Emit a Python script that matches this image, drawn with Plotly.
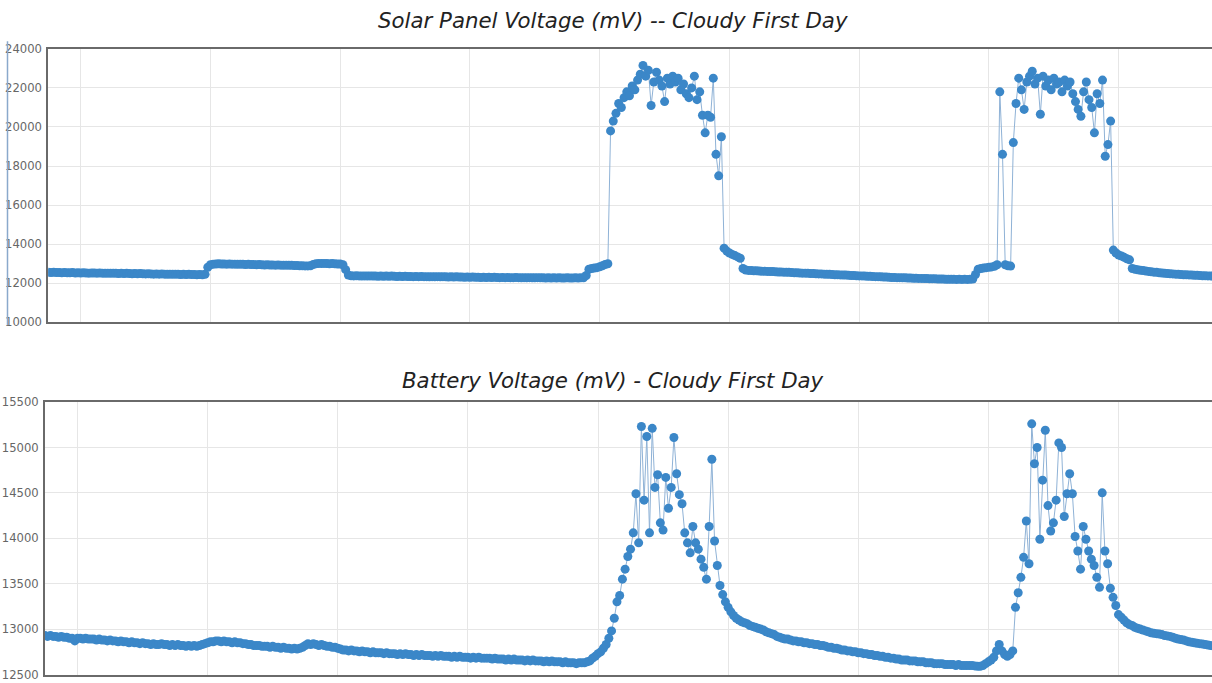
import plotly.graph_objects as go

# Logger samples every 10 minutes; one row below = 3 hours (18 samples)
STEP_MIN = 10

solar_mv = [
    12560, 12550, 12560, 12550, 12550, 12540, 12550, 12540, 12540, 12550, 12530, 12540, 12530, 12540, 12530, 12520, 12530, 12530,
    12520, 12530, 12520, 12510, 12520, 12510, 12520, 12510, 12500, 12510, 12500, 12510, 12500, 12490, 12500, 12490, 12500, 12490,
    12480, 12490, 12480, 12470, 12480, 12470, 12480, 12470, 12460, 12470, 12460, 12470, 12460, 12450, 12460, 12450, 12460, 12450,
    12450, 12440, 12450, 12440, 12460, 12820, 12950, 12980, 12990, 13000, 12990, 12990, 12980, 12990, 12980, 12980, 12970, 12980,
    12970, 12960, 12970, 12960, 12960, 12950, 12960, 12950, 12940, 12950, 12940, 12940, 12930, 12940, 12930, 12920, 12930, 12920,
    12920, 12910, 12910, 12900, 12900, 12890, 12890, 12900, 12960, 13000, 13020, 13010, 13020, 13010, 13000, 13010, 13000, 12990,
    12990, 12950, 12700, 12420, 12390, 12380, 12390, 12380, 12370, 12380, 12370, 12380, 12370, 12370, 12360, 12370, 12360, 12370,
    12360, 12370, 12360, 12350, 12360, 12350, 12360, 12350, 12350, 12340, 12350, 12340, 12350, 12340, 12340, 12330, 12340, 12330,
    12340, 12330, 12340, 12330, 12320, 12330, 12320, 12330, 12320, 12320, 12310, 12320, 12310, 12320, 12310, 12310, 12300, 12310,
    12300, 12310, 12300, 12310, 12300, 12290, 12300, 12290, 12300, 12290, 12290, 12300, 12290, 12280, 12290, 12280, 12290, 12280,
    12280, 12290, 12280, 12280, 12270, 12280, 12270, 12280, 12270, 12280, 12270, 12270, 12280, 12270, 12270, 12280, 12270, 12280,
    12280, 12400, 12720, 12760, 12780, 12800, 12850, 12900, 12960, 13000, 19800, 20300, 20700, 21200, 21000, 21500, 21800, 21600,
    22100, 21900, 22400, 22700, 23150, 22600, 22900, 21100, 22300, 22800, 22400, 22100, 21300, 22500, 22200, 22600, 22300, 22500,
    21900, 22200, 21700, 21500, 22000, 22600, 21400, 21800, 20600, 19700, 20600, 20500, 22500, 18600, 17500, 19500, 13800, 13650,
    13550, 13480, 13420, 13350, 13280, 12760, 12680, 12660, 12650, 12640, 12640, 12630, 12620, 12620, 12610, 12600, 12600, 12590,
    12580, 12580, 12570, 12560, 12560, 12550, 12540, 12540, 12530, 12520, 12520, 12510, 12500, 12500, 12490, 12480, 12480, 12470,
    12460, 12460, 12450, 12440, 12440, 12430, 12420, 12420, 12410, 12400, 12400, 12390, 12380, 12380, 12370, 12360, 12360, 12350,
    12340, 12340, 12330, 12320, 12320, 12310, 12300, 12300, 12290, 12290, 12280, 12280, 12270, 12270, 12260, 12260, 12250, 12250,
    12240, 12240, 12230, 12230, 12230, 12220, 12220, 12220, 12210, 12210, 12210, 12210, 12200, 12210, 12200, 12210, 12200, 12210,
    12220, 12450, 12720, 12760, 12780, 12800, 12820, 12840, 12870, 12950, 21800, 18600, 12950, 12900, 12880, 19200, 21200, 22500,
    21900, 20900, 22300, 22600, 22850, 22200, 22500, 20650, 22600, 22100, 22400, 21900, 22500, 22200, 22300, 21800, 22400, 22100,
    22300, 21700, 21300, 20900, 20550, 21800, 22300, 21400, 21000, 19700, 21700, 21200, 22400, 18500, 19100, 20300, 13700, 13550,
    13450, 13400, 13330, 13260, 13200, 12760, 12720, 12690, 12670, 12650, 12630, 12610, 12590, 12570, 12560, 12540, 12530, 12510,
    12500, 12490, 12480, 12470, 12460, 12450, 12440, 12440, 12430, 12420, 12410, 12410, 12400, 12390, 12390, 12380, 12380, 12370,
]

battery_mv = [
    12930, 12920, 12930, 12920, 12920, 12910, 12920, 12910, 12910, 12900, 12900, 12870, 12900, 12900, 12890, 12900, 12890, 12890,
    12890, 12880, 12890, 12880, 12880, 12870, 12880, 12870, 12870, 12860, 12870, 12860, 12860, 12850, 12860, 12850, 12850, 12840,
    12850, 12840, 12840, 12830, 12840, 12830, 12830, 12840, 12830, 12830, 12820, 12830, 12820, 12830, 12820, 12820, 12810, 12820,
    12810, 12820, 12810, 12820, 12830, 12840, 12850, 12860, 12860, 12870, 12870, 12860, 12870, 12860, 12860, 12850, 12860, 12850,
    12850, 12840, 12840, 12830, 12830, 12820, 12820, 12820, 12810, 12810, 12810, 12800, 12810, 12800, 12800, 12790, 12800, 12790,
    12790, 12780, 12790, 12780, 12790, 12800, 12820, 12840, 12830, 12840, 12830, 12820, 12830, 12820, 12810, 12810, 12800, 12800,
    12790, 12780, 12770, 12770, 12760, 12770, 12760, 12760, 12750, 12760, 12750, 12750, 12740, 12750, 12740, 12740, 12740, 12730,
    12740, 12730, 12730, 12730, 12720, 12730, 12720, 12730, 12720, 12720, 12710, 12720, 12710, 12720, 12710, 12710, 12710, 12700,
    12710, 12700, 12710, 12700, 12700, 12700, 12690, 12700, 12690, 12700, 12690, 12690, 12690, 12680, 12690, 12680, 12690, 12680,
    12680, 12680, 12680, 12670, 12680, 12670, 12670, 12670, 12660, 12670, 12660, 12670, 12660, 12660, 12660, 12650, 12660, 12650,
    12660, 12650, 12650, 12650, 12640, 12650, 12640, 12650, 12640, 12640, 12640, 12630, 12640, 12630, 12630, 12630, 12620, 12630,
    12630, 12630, 12640, 12650, 12680, 12700, 12730, 12750, 12790, 12830, 12900, 12980, 13120, 13300, 13370, 13550, 13660, 13800,
    13880, 14060, 14490, 13950, 15230, 14420, 15120, 14060, 15210, 14560, 14700, 14170, 14090, 14670, 14330, 14560, 15110, 14710,
    14480, 14380, 14060, 13950, 13840, 14130, 13950, 13880, 13770, 13680, 13550, 14130, 14870, 13970, 13700, 13480, 13380, 13300,
    13240, 13190, 13150, 13120, 13100, 13080, 13070, 13060, 13040, 13030, 13020, 13010, 13000, 12990, 12970, 12960, 12950, 12940,
    12920, 12910, 12900, 12890, 12890, 12880, 12870, 12870, 12860, 12860, 12850, 12850, 12840, 12840, 12830, 12830, 12820, 12820,
    12810, 12800, 12800, 12790, 12790, 12780, 12770, 12770, 12760, 12760, 12750, 12750, 12740, 12740, 12730, 12730, 12720, 12720,
    12710, 12710, 12700, 12700, 12690, 12690, 12680, 12680, 12670, 12670, 12660, 12660, 12660, 12650, 12650, 12650, 12640, 12640,
    12640, 12630, 12630, 12630, 12620, 12620, 12620, 12620, 12610, 12610, 12610, 12610, 12600, 12610, 12600, 12600, 12600, 12600,
    12600, 12595, 12590, 12590, 12600, 12620, 12640, 12660, 12690, 12760, 12830, 12760, 12720, 12700, 12720, 12760, 13240, 13400,
    13570, 13790, 14190, 13720, 15260, 14820, 15000, 13990, 14640, 15190, 14360, 14080, 14170, 14420, 15050, 15000, 14240, 14490,
    14710, 14490, 14020, 13860, 13660, 14130, 13990, 13860, 13770, 13700, 13570, 13460, 14500, 13860, 13720, 13450, 13350, 13260,
    13160, 13130, 13100, 13070, 13050, 13040, 13020, 13010, 13000, 12990, 12980, 12970, 12960, 12955, 12950, 12945, 12940, 12930,
    12925, 12920, 12910, 12900, 12890, 12885, 12880, 12870, 12860, 12855, 12850, 12845, 12840, 12835, 12830, 12825, 12820, 12815,
]

solar_title = "Solar Panel Voltage (mV) -- Cloudy First Day"
battery_title = "Battery Voltage (mV) - Cloudy First Day"

solar_ticks = [10000, 12000, 14000, 16000, 18000, 20000, 22000, 24000]
battery_ticks = [12500, 13000, 13500, 14000, 14500, 15000, 15500]

# elapsed hours for each sample
hours_solar = [i * STEP_MIN / 60 for i in range(len(solar_mv))]
hours_batt = [i * STEP_MIN / 60 for i in range(len(battery_mv))]

W, H = 1212, 683
DOT = "#3b87c8"
LINK = "#8fb2d6"
GRID = "#e6e6e6"
FRAME = "#6a6a6a"
TICK_FONT = dict(family="DejaVu Sans", size=11.6, color="#666666")
TITLE_FONT = dict(family="DejaVu Sans", size=21.3, color="#222222")

fig = go.Figure()
fig.add_trace(go.Scatter(
    x=hours_solar, y=solar_mv, mode="lines+markers", xaxis="x", yaxis="y",
    line=dict(color=LINK, width=1), marker=dict(size=9, color=DOT),
    hoverinfo="y", showlegend=False,
))
fig.add_trace(go.Scatter(
    x=hours_batt, y=battery_mv, mode="lines+markers", xaxis="x2", yaxis="y2",
    line=dict(color=LINK, width=1), marker=dict(size=9, color=DOT),
    hoverinfo="y", showlegend=False,
))

x_common = dict(
    range=[0, 71.75], tick0=2, dtick=8, showticklabels=False, ticks="",
    showgrid=True, gridcolor=GRID, gridwidth=1, zeroline=False,
    showline=True, linecolor=FRAME, linewidth=2, mirror=True,
)
y_common = dict(
    showgrid=True, gridcolor=GRID, gridwidth=1, zeroline=False,
    showline=True, linecolor=FRAME, linewidth=2, mirror=False,
    ticks="", tickfont=TICK_FONT, ticklabelstandoff=2,
)

fig.update_layout(
    width=W, height=H,
    margin=dict(l=0, r=0, t=0, b=0),
    paper_bgcolor="white", plot_bgcolor="white",
    showlegend=False,
    xaxis=dict(domain=[48.3 / W, 1], anchor="y", **x_common),
    yaxis=dict(domain=[(H - 322) / H, (H - 42.7) / H], anchor="x",
               range=[10000, 24000], tickvals=solar_ticks,
               ticktext=[str(v) for v in solar_ticks], **y_common),
    xaxis2=dict(domain=[45 / W, 1], anchor="y2", **x_common),
    yaxis2=dict(domain=[(H - 681.5) / H, (H - 403.3) / H], anchor="x2",
                range=[12500, 15500], tickvals=battery_ticks,
                ticktext=[str(v) for v in battery_ticks], **y_common),
    annotations=[
        dict(text=f"<i>{solar_title}</i>", xref="paper", yref="paper",
             x=613 / W, y=(H - 14) / H, xanchor="center", yanchor="middle",
             showarrow=False, font=TITLE_FONT),
        dict(text=f"<i>{battery_title}</i>", xref="paper", yref="paper",
             x=613 / W, y=(H - 381) / H, xanchor="center", yanchor="middle",
             showarrow=False, font=TITLE_FONT),
    ],
    shapes=[
        dict(type="line", xref="paper", yref="paper",
             x0=7.5 / W, x1=7.5 / W, y0=(H - 325) / H, y1=(H - 35) / H,
             line=dict(color="#8aa9cc", width=1.5)),
    ],
)

fig.write_html("out.html")
